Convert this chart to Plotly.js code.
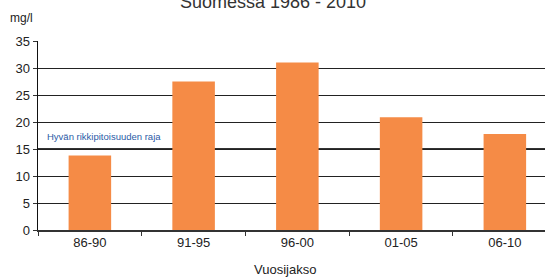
<!DOCTYPE html>
<html><head><meta charset="utf-8">
<script src="https://cdn.plot.ly/plotly-3.0.1.min.js"></script>
<style>html,body{margin:0;padding:0;background:#fff;overflow:hidden}</style>
</head><body>
<div id="chart" style="width:545px;height:278px"></div>
<script>
const categories = ["86-90", "91-95", "96-00", "01-05", "06-10"];
const values = [13.8, 27.5, 31.0, 20.9, 17.8];
const yTicks = [0, 5, 10, 15, 20, 25, 30, 35];
const limitValue = 15;
const limitLabel = "Hyvän rikkipitoisuuden raja";
const titleText = "Suomessa 1986 - 2010";
const yUnit = "mg/l";
const xTitle = "Vuosijakso";

const font = "Liberation Sans, Arial, sans-serif";
const trace = {
  type: "bar", x: categories, y: values,
  marker: {color: "#f58b46", line: {width: 0}},
  width: 0.41, hoverinfo: "none"
};
const layout = {
  width: 545, height: 278,
  margin: {l: 38, r: 0, t: 40.5, b: 48},
  paper_bgcolor: "#fff", plot_bgcolor: "#fff",
  showlegend: false,
  font: {family: font, size: 13, color: "#222"},
  xaxis: {
    type: "category", range: [-0.5, 4.387],
    showline: true, linecolor: "#333", linewidth: 1.5,
    ticks: "outside", tickson: "boundaries", ticklen: 4, tickcolor: "#333",
    showgrid: false, zeroline: false,
    tickfont: {family: font, size: 13, color: "#222"}
  },
  yaxis: {
    range: [0, 35], tickvals: yTicks, ticktext: yTicks.map(String),
    showline: true, linecolor: "#111", linewidth: 1.5,
    ticks: "outside", ticklen: 4, tickcolor: "#333",
    showgrid: true, gridcolor: "#222", gridwidth: 1,
    zeroline: false,
    tickfont: {family: font, size: 13, color: "#222"}
  },
  shapes: [{
    type: "line", xref: "paper", x0: 0, x1: 1, yref: "y", y0: limitValue, y1: limitValue,
    line: {color: "#333", width: 2}, layer: "below"
  }],
  annotations: [
    {text: titleText, xref: "paper", yref: "paper", x: 0.463, y: 1.145, xanchor: "center", yanchor: "bottom",
     showarrow: false, font: {family: font, size: 18, color: "#333"}},
    {text: yUnit, xref: "paper", yref: "paper", x: -0.06, y: 1.072, xanchor: "left", yanchor: "bottom",
     showarrow: false, font: {family: font, size: 12, color: "#222"}},
    {text: xTitle, xref: "paper", yref: "paper", x: 0.487, y: -0.16, xanchor: "center", yanchor: "top",
     showarrow: false, font: {family: font, size: 13, color: "#222"}},
    {text: limitLabel, xref: "paper", yref: "y", x: 0.013, y: limitValue + 0.9, xanchor: "left", yanchor: "bottom",
     showarrow: false, font: {family: font, size: 9.5, color: "#2b5ba6"}}
  ]
};
Plotly.newPlot("chart", [trace], layout, {staticPlot: true, displayModeBar: false});
</script>
</body></html>
